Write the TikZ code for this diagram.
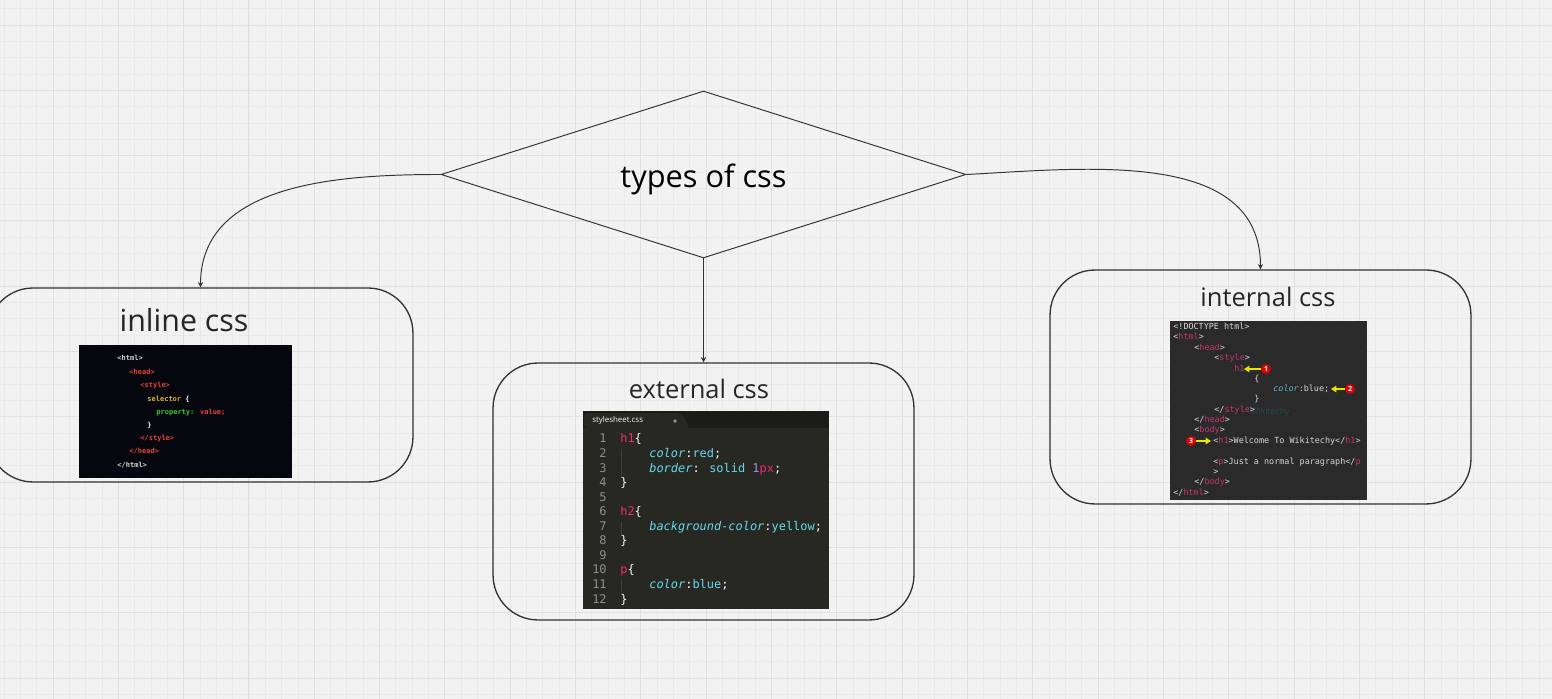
\documentclass[tikz,border=0pt]{standalone}
\usepackage{fontspec}
\setmainfont{Open Sans}
\newfontfamily\codefont{DejaVu Sans Mono}[ItalicFont={DejaVu Sans Mono Oblique},BoldFont={DejaVu Sans Mono Bold}]
\usepackage{xcolor}
\usetikzlibrary{shapes.geometric, arrows.meta, positioning}

\definecolor{paper}{HTML}{F2F2F2}
\definecolor{gridminor}{HTML}{EAEAEA}
\definecolor{gridmajor}{HTML}{E1E1E1}
\definecolor{ink}{HTML}{333333}
\definecolor{inlinebg}{HTML}{05060E}
\definecolor{htmlgray}{HTML}{D8D8D8}
\definecolor{htmlred}{HTML}{E8443A}
\definecolor{htmlyellow}{HTML}{D8B828}
\definecolor{htmlgreen}{HTML}{33CC33}
\definecolor{monobg}{HTML}{272822}
\definecolor{monostrip}{HTML}{1B1C18}
\definecolor{monopink}{HTML}{F92672}
\definecolor{monocyan}{HTML}{66D9EF}
\definecolor{monopurple}{HTML}{AE81FF}
\definecolor{monowhite}{HTML}{F8F8F2}
\definecolor{monogray}{HTML}{90908A}
\definecolor{monoguide}{HTML}{3E3F39}
\definecolor{intbg}{HTML}{2A2A2A}
\definecolor{inttag}{HTML}{C8356E}
\definecolor{intgray}{HTML}{D8D8D8}
\definecolor{intcyan}{HTML}{5BB8C8}
\definecolor{badgered}{HTML}{E00000}
\definecolor{arrowyellow}{HTML}{E6E600}

\newcommand{\pk}[1]{\textcolor{monopink}{#1}}
\newcommand{\cy}[1]{\textcolor{monocyan}{#1}}
\newcommand{\cyi}[1]{\textcolor{monocyan}{\itshape #1}}
\newcommand{\tagc}[1]{\textcolor{inttag}{#1}}
\newcommand{\hred}[1]{\textcolor{htmlred}{#1}}

\tikzset{
    decision/.style={diamond, draw=ink, line width=0.55pt, inner sep=0pt, aspect=3.14,
        minimum width=10.5cm, minimum height=3.34cm, text height=14.3pt, text depth=0pt,
        font=\fontsize{17.5}{21}\selectfont},
    group/.style={rectangle, draw=ink, line width=0.75pt, rounded corners=0.9cm},
    title/.style={font=\fontsize{14.5}{17}\selectfont, text=black!85},
    arr/.style={draw=ink, line width=0.55pt, -{Stealth[length=3pt,width=3pt]}},
    panel/.style={rectangle, inner sep=0pt},
    inlcode/.style={anchor=base west, inner sep=0pt, font=\codefont\bfseries\fontsize{4}{4}\selectfont},
    extcode/.style={anchor=base west, inner sep=0pt, text=monowhite, font=\codefont\fontsize{6.8}{7}\selectfont},
    lnum/.style={anchor=base east, inner sep=0pt, text=monogray, font=\codefont\fontsize{6.8}{7}\selectfont},
    intcode/.style={anchor=base west, inner sep=0pt, text=intgray, font=\codefont\fontsize{4.8}{5}\selectfont},
    badge/.style={circle, fill=badgered, text=white, inner sep=0pt, minimum size=5.6pt,
        font=\bfseries\fontsize{4}{4}\selectfont},
    yarr/.style={draw=arrowyellow, line width=1pt, -{Triangle[length=3pt,width=3.6pt]}}
}

\begin{document}
\begin{tikzpicture}[x=0.02cm, y=0.02cm]
        \clip (0,0) rectangle (1552,699);
        \fill[paper] (0,0) rectangle (1552,699);
        \foreach \i in {0,...,95} \draw[gridminor, line width=0.5pt] ({4+16.33*\i},0) -- ({4+16.33*\i},699);
        \foreach \j in {0,...,43} \draw[gridminor, line width=0.5pt] (0,{690.33-16.33*\j}) -- (1552,{690.33-16.33*\j});
        \foreach \i in {0,...,23} \draw[gridmajor, line width=0.55pt] ({53+65.32*\i},0) -- ({53+65.32*\i},699);
        \foreach \j in {0,...,10} \draw[gridmajor, line width=0.55pt] (0,{674-65.32*\j}) -- (1552,{674-65.32*\j});

        % diagram
        \node[decision] (types) at (703.5,524.5) {types of css};
        \node[group, minimum width=8.5cm, minimum height=3.88cm] (inl) at (200.5,314) {};
        \node[group, minimum width=8.42cm, minimum height=5.14cm] (ext) at (703.5,207.5) {};
        \node[group, minimum width=8.42cm, minimum height=4.68cm] (intl) at (1260.5,312) {};

        \node[title, font=\fontsize{17.3}{20}\selectfont] (inltitle) at (184,379) {inline css};
        \node[title] (exttitle) at (699,310) {external css};
        \node[title] (inttitle) at (1268,402) {internal css};

        \draw[arr] (types.west) to[out=180, in=90] (inl.north);
        \draw[arr] (types.south) -- (ext.north);
        \draw[arr] (types.east) to[out=3, in=90] (intl.north);

        % inline css panel
        \node[panel, fill=inlinebg, minimum width=4.26cm, minimum height=2.66cm] (inlpanel) at (185.5,287.5) {};
        \node[inlcode] at (117,338.5) {\textcolor{htmlgray}{<html>}};
        \node[inlcode] at (129,324.5) {\hred{<head>}};
        \node[inlcode] at (140,311.5) {\hred{<style>}};
        \node[inlcode] at (147,297.5) {\textcolor{htmlyellow}{selector} \textcolor{white}{\{}};
        \node[inlcode] at (156,284.5) {\textcolor{htmlgreen}{property:} \hred{value;}};
        \node[inlcode] at (147,271.5) {\textcolor{white}{\}}};
        \node[inlcode] at (140,258.5) {\hred{</style>}};
        \node[inlcode] at (129,245.5) {\hred{</head>}};
        \node[inlcode] at (117,231.5) {\textcolor{htmlgray}{</html>}};

        % external css panel
        \node[panel, fill=monobg, minimum width=4.92cm, minimum height=3.96cm] (extpanel) at (706,189) {};
        \fill[monostrip] (583,271) rectangle (829,288);
        \fill[monobg, rounded corners=2pt] (584,271) -- (584,286) -- (681,286) -- (690,271) -- cycle;
        \node[anchor=base west, inner sep=0pt, text=monowhite!85, font=\fontsize{4.5}{5}\selectfont] (tabname) at (592,276.5) {stylesheet.css};
        \fill[monogray] (675,278) circle (1.8);
        \foreach \n in {1,...,12} \node[lnum] at (607,{256-14.55*(\n-1)}) {\n};
        \draw[monoguide, line width=0.3pt] (621,250) -- (621,222) (621,177) -- (621,164) (621,119) -- (621,106);
        \node[extcode] at (620,256) {\pk{h1}\{};
        \node[extcode] at (649,241.45) {\cyi{color}:\cy{red};};
        \node[extcode] at (649,226.9) {\cyi{border}: \cy{solid} \textcolor{monopurple}{1}\pk{px};};
        \node[extcode] at (620,212.35) {\}};
        \node[extcode] at (620,183.25) {\pk{h2}\{};
        \node[extcode] at (649,168.7) {\cyi{background-color}:\cy{yellow};};
        \node[extcode] at (620,154.15) {\}};
        \node[extcode] at (620,125.05) {\pk{p}\{};
        \node[extcode] at (649,110.5) {\cyi{color}:\cy{blue};};
        \node[extcode] at (620,95.95) {\}};

        % internal css panel
        \node[panel, fill=intbg, minimum width=3.94cm, minimum height=3.58cm] (intpanel) at (1268.5,288.5) {};
        \node[text=gray!45!teal!60!black, font=\fontsize{5}{5}\selectfont] (mark) at (1270,287) {Wikitechy};
        \node[intcode] at (1173,369) {<!DOCTYPE html>};
        \node[intcode] at (1173,359) {<\tagc{html}>};
        \node[intcode] at (1194,348) {<\tagc{head}>};
        \node[intcode] at (1214,338) {<\tagc{style}>};
        \node[intcode] at (1234,327) {\tagc{h1}};
        \node[intcode] at (1254,317) {\{};
        \node[intcode] at (1273,307) {\textcolor{intcyan}{\itshape color}:blue;};
        \node[intcode] at (1254,297) {\}};
        \node[intcode] at (1214,286) {</\tagc{style}>};
        \node[intcode] at (1194,276) {</\tagc{head}>};
        \node[intcode] at (1194,266) {<\tagc{body}>};
        \node[intcode] at (1213,255) {<\tagc{h1}>Welcome To Wikitechy</\tagc{h1}>};
        \node[intcode] at (1213,234) {<\tagc{p}>Just a normal paragraph</\tagc{p}};
        \node[intcode] at (1213,224) {>};
        \node[intcode] at (1194,214) {</\tagc{body}>};
        \node[intcode] at (1173,203) {</\tagc{html}>};

        \node[badge] (b1) at (1266,330) {1};
        \node[badge] (b2) at (1350,310) {2};
        \node[badge] (b3) at (1191,258) {3};
        \coordinate (h1mark) at (1244,330);
        \coordinate (bluemark) at (1331,310);
        \coordinate (bodymark) at (1211,258);
        \draw[yarr] (b1) -- (h1mark);
        \draw[yarr] (b2) -- (bluemark);
        \draw[yarr] (b3) -- (bodymark);
\end{tikzpicture}
\end{document}
